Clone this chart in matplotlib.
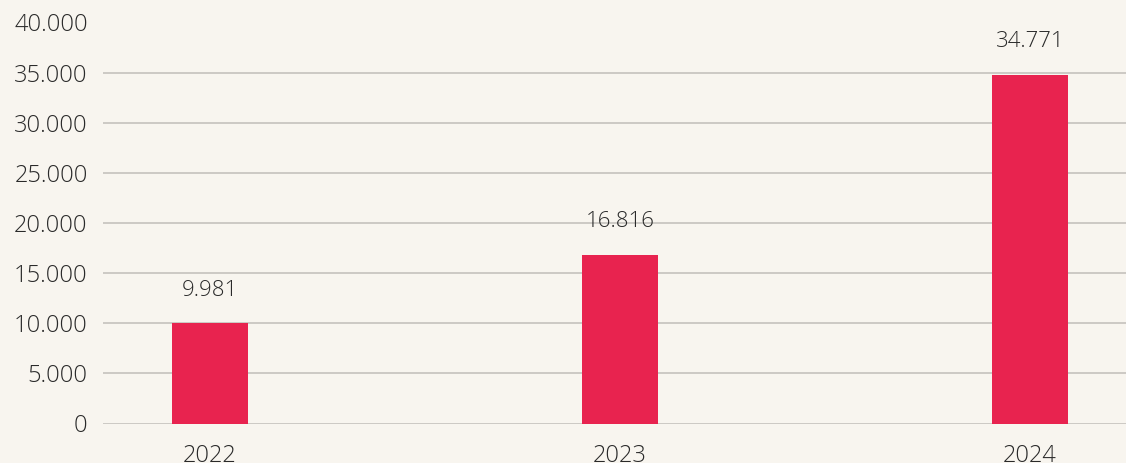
import matplotlib
matplotlib.use("Agg")
import matplotlib.pyplot as plt
from matplotlib.ticker import FuncFormatter, MultipleLocator

years = ["2022", "2023", "2024"]
values = [9981, 16816, 34771]

BG = "#F8F5EF"
BAR = "#E8234F"
GRID = "#C9C6C1"
TXT = "#2A2A2A"

plt.rcParams['font.family'] = ['Open Sans', 'DejaVu Sans']

fig = plt.figure(figsize=(11.26, 4.63), dpi=100, facecolor=BG)
ax = fig.add_axes([103/1126, (463-423.5)/463, 1 - 103/1126, 401/463])
ax.set_facecolor(BG)

x = list(range(len(years)))
ax.bar(x, values, width=0.185, color=BAR, zorder=2)

ax.set_ylim(0, 40000)
ax.set_xlim(-0.261, 2.234)
ax.yaxis.set_major_locator(MultipleLocator(5000))
ax.yaxis.set_major_formatter(FuncFormatter(lambda v, p: f"{int(v):,}".replace(",", ".")))
ax.grid(axis='y', color=GRID, linewidth=1.3, zorder=0)
ax.set_axisbelow(True)
for s in ax.spines.values():
    s.set_visible(False)

ax.set_xticks(x)
ax.set_xticklabels(years)
ax.tick_params(axis='both', length=0, labelsize=17, labelcolor=TXT)
ax.tick_params(axis='y', pad=11)
ax.tick_params(axis='x', pad=15)
for lab in ax.get_xticklabels() + ax.get_yticklabels():
    lab.set_fontweight(300)

for xi, v in zip(x, values):
    ax.annotate(f"{v:,}".replace(",", "."), (xi, v), xytext=(0, 24), textcoords='offset points',
                ha='center', va='center', fontsize=16, color=TXT, fontweight=300)

fig.savefig("out.png", dpi=100, facecolor=BG)
